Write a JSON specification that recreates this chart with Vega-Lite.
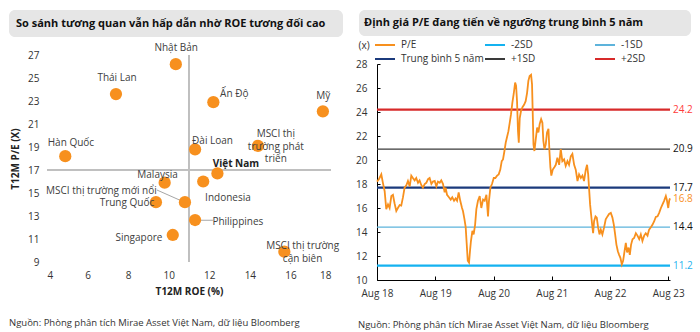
{
"$schema": "https://vega.github.io/schema/vega-lite/v6.json",
"background": "white",
"padding": {"left": 8, "top": 10, "right": 0, "bottom": 0},
"config": {"view": {"stroke": null}, "font": "Open Sans", "axis": {"labelOverlap": false}},
"resolve": {"scale": {"color": "independent"}, "legend": {"color": "independent"}},
"datasets": {
"markets": [
{"name": "Nhật Bản", "roe": 10.35, "pe": 26.2, "lx": 10.37, "ly": 27.58, "label": "Nhật Bản"},
{"name": "Thái Lan", "roe": 7.4, "pe": 23.6, "lx": 7.45, "ly": 25.03, "label": "Thái Lan"},
{"name": "Hàn Quốc", "roe": 4.9, "pe": 18.2, "lx": 5.18, "ly": 19.32, "label": "Hàn Quốc"},
{"name": "Ấn Độ", "roe": 12.2, "pe": 22.9, "lx": 13.23, "ly": 23.58, "label": "Ấn Độ"},
{"name": "Mỹ", "roe": 17.6, "pe": 22.1, "lx": 17.62, "ly": 23.46, "label": "Mỹ"},
{"name": "MSCI thị trường phát triển", "roe": 14.4, "pe": 19.1, "lx": 15.28, "ly": 20.13, "label": "MSCI thị\ntrường phát\ntriển"},
{"name": "Đài Loan", "roe": 11.3, "pe": 18.8, "lx": 12.16, "ly": 19.55, "label": "Đài Loan"},
{"name": "Việt Nam", "roe": 12.4, "pe": 16.7, "lx": 13.31, "ly": 17.52, "label": "Việt Nam"},
{"name": "Malaysia", "roe": 9.8, "pe": 15.9, "lx": 9.45, "ly": 16.57, "label": "Malaysia"},
{"name": "Indonesia", "roe": 11.7, "pe": 16.0, "lx": 12.92, "ly": 14.59, "label": "Indonesia"},
{"name": "MSCI thị trường mới nổi", "roe": 10.8, "pe": 14.2, "lx": 6.68, "ly": 15.17, "label": "MSCI thị trường mới nổi"},
{"name": "Trung Quốc", "roe": 9.37, "pe": 14.2, "lx": 7.94, "ly": 14.13, "label": "Trung Quốc"},
{"name": "Philippines", "roe": 11.3, "pe": 12.65, "lx": 13.41, "ly": 12.51, "label": "Philippines"},
{"name": "Singapore", "roe": 10.2, "pe": 11.35, "lx": 8.53, "ly": 11.09, "label": "Singapore"},
{"name": "MSCI thị trường cận biên", "roe": 15.7, "pe": 9.9, "lx": 16.6, "ly": 10.39, "label": "MSCI thị trường\ncận biên"}
],
"leaders": [
{"name": "MSCI thị trường mới nổi", "x1": 9.42, "y1": 15.26, "x2": 10.75, "y2": 14.22},
{"name": "Philippines", "x1": 11.44, "y1": 12.63, "x2": 12.18, "y2": 12.63}
],
"refs": [
{"name": "+2SD", "value": 24.2},
{"name": "+1SD", "value": 20.9},
{"name": "Trung bình 5 năm", "value": 17.7},
{"name": "-1SD", "value": 14.4},
{"name": "-2SD", "value": 11.2}
],
"pe": [
{"date":"2018-08-01","pe":18.2},{"date":"2018-08-13","pe":18.4},{"date":"2018-08-28","pe":18.8},{"date":"2018-09-07","pe":18.1},{"date":"2018-09-18","pe":17.4},{"date":"2018-09-28","pe":15.9},{"date":"2018-10-09","pe":16.3},{"date":"2018-10-19","pe":16.0},{"date":"2018-10-30","pe":17.0},{"date":"2018-11-09","pe":17.1},{"date":"2018-11-19","pe":16.4},{"date":"2018-11-30","pe":15.75},{"date":"2018-12-10","pe":16.0},{"date":"2018-12-21","pe":16.25},{"date":"2018-12-31","pe":16.2},
{"date":"2019-01-11","pe":16.9},{"date":"2019-01-21","pe":17.7},{"date":"2019-02-01","pe":17.9},{"date":"2019-02-11","pe":18.25},{"date":"2019-02-22","pe":17.8},{"date":"2019-03-04","pe":18.7},{"date":"2019-03-14","pe":18.5},{"date":"2019-03-25","pe":18.3},{"date":"2019-04-04","pe":18.5},{"date":"2019-04-15","pe":18.1},{"date":"2019-04-25","pe":18.3},{"date":"2019-05-06","pe":17.9},{"date":"2019-05-16","pe":17.7},{"date":"2019-05-27","pe":18.0},{"date":"2019-06-06","pe":18.1},{"date":"2019-06-17","pe":18.4},{"date":"2019-06-27","pe":18.5},{"date":"2019-07-08","pe":18.0},{"date":"2019-07-18","pe":18.2},{"date":"2019-07-29","pe":18.25},{"date":"2019-08-08","pe":17.8},{"date":"2019-08-18","pe":18.2},{"date":"2019-08-29","pe":18.1},{"date":"2019-09-08","pe":18.3},{"date":"2019-09-19","pe":18.0},{"date":"2019-09-29","pe":17.3},{"date":"2019-10-05","pe":17.7},{"date":"2019-10-14","pe":17.1},{"date":"2019-10-26","pe":16.9},{"date":"2019-11-06","pe":16.7},{"date":"2019-11-16","pe":16.9},{"date":"2019-11-27","pe":16.6},{"date":"2019-12-07","pe":16.8},{"date":"2019-12-16","pe":16.6},{"date":"2019-12-26","pe":17.3},
{"date":"2020-01-05","pe":16.6},{"date":"2020-01-16","pe":16.0},{"date":"2020-01-22","pe":15.75},{"date":"2020-01-31","pe":15.1},{"date":"2020-02-08","pe":14.4},{"date":"2020-02-14","pe":13.1},{"date":"2020-02-21","pe":11.6},{"date":"2020-02-29","pe":11.45},{"date":"2020-03-06","pe":12.4},{"date":"2020-03-12","pe":13.25},{"date":"2020-03-21","pe":14.1},{"date":"2020-03-29","pe":13.8},{"date":"2020-04-07","pe":14.6},{"date":"2020-04-15","pe":15.9},{"date":"2020-04-25","pe":16.6},{"date":"2020-05-06","pe":17.0},{"date":"2020-05-16","pe":16.0},{"date":"2020-05-27","pe":16.7},{"date":"2020-06-06","pe":16.6},{"date":"2020-06-17","pe":17.1},{"date":"2020-06-27","pe":15.3},{"date":"2020-07-03","pe":16.6},{"date":"2020-07-12","pe":17.7},{"date":"2020-07-22","pe":18.0},{"date":"2020-08-02","pe":18.5},{"date":"2020-08-12","pe":18.5},{"date":"2020-08-23","pe":18.7},{"date":"2020-09-02","pe":18.8},{"date":"2020-09-12","pe":19.2},{"date":"2020-09-21","pe":19.9},{"date":"2020-09-29","pe":20.05},{"date":"2020-10-08","pe":20.75},{"date":"2020-10-16","pe":21.45},{"date":"2020-10-24","pe":21.9},{"date":"2020-11-02","pe":22.4},{"date":"2020-11-10","pe":23.1},{"date":"2020-11-18","pe":23.8},{"date":"2020-11-27","pe":24.8},{"date":"2020-12-05","pe":25.5},{"date":"2020-12-14","pe":26.45},{"date":"2020-12-20","pe":26.2},{"date":"2020-12-26","pe":24.9},
{"date":"2021-01-01","pe":22.4},{"date":"2021-01-06","pe":21.45},{"date":"2021-01-12","pe":23.5},{"date":"2021-01-20","pe":24.1},{"date":"2021-01-29","pe":24.4},{"date":"2021-02-08","pe":24.6},{"date":"2021-02-18","pe":24.9},{"date":"2021-02-27","pe":25.6},{"date":"2021-03-07","pe":26.6},{"date":"2021-03-15","pe":27.0},{"date":"2021-03-24","pe":27.1},{"date":"2021-03-30","pe":26.3},{"date":"2021-04-03","pe":24.1},{"date":"2021-04-08","pe":21.3},{"date":"2021-04-14","pe":20.75},{"date":"2021-04-22","pe":21.7},{"date":"2021-05-01","pe":22.7},{"date":"2021-05-09","pe":22.3},{"date":"2021-05-17","pe":23.0},{"date":"2021-05-26","pe":23.4},{"date":"2021-06-03","pe":23.1},{"date":"2021-06-09","pe":21.6},{"date":"2021-06-16","pe":20.9},{"date":"2021-06-24","pe":21.3},{"date":"2021-07-02","pe":22.3},{"date":"2021-07-11","pe":22.6},{"date":"2021-07-17","pe":20.75},{"date":"2021-07-23","pe":19.4},{"date":"2021-07-29","pe":18.7},{"date":"2021-08-07","pe":19.2},{"date":"2021-08-17","pe":19.4},{"date":"2021-08-26","pe":19.6},{"date":"2021-09-05","pe":20.2},{"date":"2021-09-16","pe":19.6},{"date":"2021-09-26","pe":20.9},{"date":"2021-10-06","pe":19.9},{"date":"2021-10-17","pe":20.05},{"date":"2021-10-27","pe":19.5},{"date":"2021-11-07","pe":19.9},{"date":"2021-11-17","pe":19.6},{"date":"2021-11-28","pe":20.3},{"date":"2021-12-08","pe":20.5},{"date":"2021-12-19","pe":19.6},{"date":"2021-12-29","pe":19.2},
{"date":"2022-01-09","pe":18.25},{"date":"2022-01-19","pe":18.8},{"date":"2022-01-30","pe":18.5},{"date":"2022-02-09","pe":18.7},{"date":"2022-02-19","pe":18.25},{"date":"2022-03-02","pe":19.2},{"date":"2022-03-10","pe":19.6},{"date":"2022-03-17","pe":18.8},{"date":"2022-03-23","pe":17.55},{"date":"2022-03-29","pe":16.3},{"date":"2022-04-04","pe":15.5},{"date":"2022-04-11","pe":14.6},{"date":"2022-04-17","pe":13.9},{"date":"2022-04-23","pe":14.9},{"date":"2022-05-02","pe":15.3},{"date":"2022-05-10","pe":15.2},{"date":"2022-05-18","pe":14.4},{"date":"2022-05-27","pe":13.8},{"date":"2022-06-04","pe":14.2},{"date":"2022-06-14","pe":13.8},{"date":"2022-06-25","pe":14.4},{"date":"2022-07-05","pe":15.05},{"date":"2022-07-16","pe":15.3},{"date":"2022-07-26","pe":15.5},{"date":"2022-08-06","pe":15.6},{"date":"2022-08-16","pe":15.2},{"date":"2022-08-25","pe":14.6},{"date":"2022-09-02","pe":13.8},{"date":"2022-09-10","pe":12.95},{"date":"2022-09-19","pe":12.4},{"date":"2022-09-27","pe":12.1},{"date":"2022-10-05","pe":11.85},{"date":"2022-10-14","pe":11.3},{"date":"2022-10-22","pe":11.6},{"date":"2022-10-31","pe":12.4},{"date":"2022-11-08","pe":13.1},{"date":"2022-11-16","pe":12.3},{"date":"2022-11-25","pe":12.7},{"date":"2022-12-03","pe":12.1},{"date":"2022-12-11","pe":12.95},{"date":"2022-12-20","pe":13.4},{"date":"2022-12-30","pe":13.5},
{"date":"2023-01-10","pe":13.9},{"date":"2023-01-20","pe":13.7},{"date":"2023-01-31","pe":13.4},{"date":"2023-02-10","pe":13.8},{"date":"2023-02-20","pe":13.25},{"date":"2023-03-03","pe":13.7},{"date":"2023-03-13","pe":13.9},{"date":"2023-03-24","pe":13.7},{"date":"2023-04-03","pe":14.2},{"date":"2023-04-14","pe":14.4},{"date":"2023-04-24","pe":14.6},{"date":"2023-05-05","pe":14.9},{"date":"2023-05-15","pe":15.25},{"date":"2023-05-26","pe":15.3},{"date":"2023-06-05","pe":15.6},{"date":"2023-06-16","pe":16.0},{"date":"2023-06-26","pe":16.3},{"date":"2023-07-06","pe":16.6},{"date":"2023-07-17","pe":17.0},{"date":"2023-07-23","pe":16.7},{"date":"2023-08-01","pe":16.0},{"date":"2023-08-07","pe":16.6},{"date":"2023-08-12","pe":16.8}
]
},
"spacing": 12,
"hconcat": [
{
"spacing": 6,
"vconcat": [
{
"width": 296, "height": 27,
"layer": [
{"data": {"values": [{"box": "title"}]},
 "mark": {"type": "rect", "color": "#E6E6E6", "cornerRadius": 6},
 "encoding": {"x": {"datum": -0.1284, "type": "quantitative", "scale": {"domain": [0, 1], "nice": false, "zero": false}, "axis": null}, "x2": {"datum": 1},
  "y": {"datum": 0, "type": "quantitative", "scale": {"domain": [0, 1], "nice": false, "zero": false}, "axis": null}, "y2": {"datum": 1}}},
{"data": {"values": [{"t": "So sánh tương quan vẫn hấp dẫn nhờ ROE tương đối cao"}]},
 "mark": {"type": "text", "align": "left", "baseline": "middle", "fontWeight": "bold", "fontSize": 11, "color": "#111"},
 "encoding": {"text": {"field": "t"}, "x": {"datum": -0.1047, "type": "quantitative"}, "y": {"datum": 0.5, "type": "quantitative"}}}
]
},
{
"width": 284, "height": 207,
"data": {"name": "markets"},
"layer": [
{"mark": {"type": "rule", "color": "#BFBFBF", "strokeWidth": 1},
 "encoding": {"y": {"datum": 17, "type": "quantitative", "title": "T12M P/E (X)", "scale": {"domain": [9, 27], "nice": false, "zero": false},
   "axis": {"values": [9, 11, 13, 15, 17, 19, 21, 23, 25, 27], "tickCount": 20, "format": "d", "labelOverlap": false, "domain": false, "ticks": false, "grid": false, "labelFontSize": 10, "labelColor": "#333", "labelPadding": 8, "titleFontSize": 10, "titleFontWeight": "bold", "titleColor": "#222", "titlePadding": 7}}}},
{"mark": {"type": "rule", "color": "#BFBFBF", "strokeWidth": 1},
 "encoding": {"x": {"datum": 11, "type": "quantitative", "title": "T12M ROE (%)", "scale": {"domain": [4, 18], "nice": false, "zero": false},
   "axis": {"values": [4, 6, 8, 10, 12, 14, 16, 18], "tickCount": 20, "format": "d", "labelOverlap": false, "domain": false, "ticks": false, "grid": false, "labelFontSize": 10, "labelColor": "#333", "labelPadding": 8, "titleFontSize": 10, "titleFontWeight": "bold", "titleColor": "#222", "titlePadding": 6}}}},
{"data": {"name": "leaders"}, "mark": {"type": "rule", "color": "#A6A6A6", "strokeWidth": 1},
 "encoding": {"x": {"field": "x1", "type": "quantitative", "title": "T12M ROE (%)"}, "y": {"field": "y1", "type": "quantitative", "title": "T12M P/E (X)"}, "x2": {"field": "x2"}, "y2": {"field": "y2"}}},
{"mark": {"type": "circle", "size": 150, "opacity": 1, "color": "#F7901E"},
 "encoding": {"x": {"field": "roe", "type": "quantitative", "title": "T12M ROE (%)"}, "y": {"field": "pe", "type": "quantitative", "title": "T12M P/E (X)"}}},
{"transform": [{"filter": "datum.name !== 'Việt Nam'"}],
 "mark": {"type": "text", "fontSize": 10, "color": "#404040", "align": "center", "baseline": "middle", "lineBreak": "\n", "lineHeight": 12.5},
 "encoding": {"x": {"field": "lx", "type": "quantitative", "title": "T12M ROE (%)"}, "y": {"field": "ly", "type": "quantitative", "title": "T12M P/E (X)"}, "text": {"field": "label"}}},
{"transform": [{"filter": "datum.name === 'Việt Nam'"}],
 "mark": {"type": "text", "fontSize": 10, "fontWeight": "bold", "color": "#222", "align": "center", "baseline": "middle"},
 "encoding": {"x": {"field": "lx", "type": "quantitative", "title": "T12M ROE (%)"}, "y": {"field": "ly", "type": "quantitative", "title": "T12M P/E (X)"}, "text": {"field": "label"}}}
]
},
{
"width": 296, "height": 42,
"data": {"values": [{"t": "Nguồn: Phòng phân tích Mirae Asset Việt Nam, dữ liệu Bloomberg"}]},
"mark": {"type": "text", "align": "left", "baseline": "middle", "fontSize": 9.5, "color": "#333"},
"encoding": {"text": {"field": "t"}, "x": {"datum": -0.1284, "type": "quantitative", "scale": {"domain": [0, 1], "nice": false, "zero": false}, "axis": null}}
}
]
},
{
"spacing": 2,
"resolve": {"scale": {"color": "independent"}, "legend": {"color": "independent"}},
"vconcat": [
{
"width": 314, "height": 26,
"layer": [
{"data": {"values": [{"box": "title"}]},
 "mark": {"type": "rect", "color": "#E6E6E6", "cornerRadius": 6},
 "encoding": {"x": {"datum": -0.0573, "type": "quantitative", "scale": {"domain": [0, 1], "nice": false, "zero": false}, "axis": null}, "x2": {"datum": 1},
  "y": {"datum": 0, "type": "quantitative", "scale": {"domain": [0, 1], "nice": false, "zero": false}, "axis": null}, "y2": {"datum": 1}}},
{"data": {"values": [{"t": "Định giá P/E đang tiến về ngưỡng trung bình 5 năm"}]},
 "mark": {"type": "text", "align": "left", "baseline": "middle", "fontWeight": "bold", "fontSize": 11, "color": "#111"},
 "encoding": {"text": {"field": "t"}, "x": {"datum": -0.0414, "type": "quantitative"}, "y": {"datum": 0.5, "type": "quantitative"}}}
]
},
{
"width": 293, "height": 216,
"layer": [
{"data": {"name": "refs"}, "transform": [{"filter": "datum.name === '+1SD' || datum.name === '-1SD'"}],
 "mark": {"type": "rule", "strokeWidth": 1.3},
 "encoding": {
  "y": {"field": "value", "type": "quantitative", "title": "(x)", "scale": {"domain": [10, 28], "nice": false, "zero": false},
   "axis": {"values": [10, 12, 14, 16, 18, 20, 22, 24, 26, 28], "tickCount": 20, "format": "d", "labelOverlap": false, "grid": false, "domain": true, "domainColor": "#000", "ticks": true, "tickColor": "#000", "tickSize": -3, "labelFontSize": 10, "labelColor": "#333", "labelPadding": 13, "titleAngle": 0, "titleFontSize": 10, "titleFontWeight": "normal", "titleColor": "#333", "titleAlign": "left", "titleBaseline": "middle", "titleX": -19, "titleY": -19}},
  "color": {"field": "name", "type": "nominal",
   "scale": {"domain": ["P/E", "-2SD", "-1SD", "Trung bình 5 năm", "+1SD", "+2SD"], "range": ["#F7901E", "#14B2F0", "#5DB3DB", "#1B3A7C", "#3A3A3A", "#D72A2A"]},
   "legend": {"orient": "none", "legendX": -3, "legendY": -26, "direction": "horizontal", "columns": 3, "title": null, "symbolType": "stroke", "symbolSize": 400, "symbolStrokeWidth": 2, "clipHeight": 14, "labelFontSize": 10, "labelColor": "#333", "labelOffset": 5, "columnPadding": 0, "rowPadding": 0, "gridAlign": "all", "padding": 0}}
 }},
{"data": {"name": "refs"}, "transform": [{"filter": "datum.name === '+2SD' || datum.name === 'Trung bình 5 năm' || datum.name === '-2SD'"}],
 "mark": {"type": "rule", "strokeWidth": 2.2},
 "encoding": {"y": {"field": "value", "type": "quantitative", "title": "(x)"}, "color": {"field": "name", "type": "nominal"}}},
{"data": {"name": "pe"},
 "mark": {"type": "line", "strokeWidth": 1.8},
 "encoding": {
  "x": {"field": "date", "type": "temporal", "title": null,
   "scale": {"domain": [{"year": 2018, "month": 8, "date": 1}, {"year": 2023, "month": 8, "date": 12}], "nice": false},
   "axis": {"values": [{"year": 2018, "month": 8, "date": 1}, {"year": 2019, "month": 8, "date": 1}, {"year": 2020, "month": 8, "date": 1}, {"year": 2021, "month": 8, "date": 1}, {"year": 2022, "month": 8, "date": 1}, {"year": 2023, "month": 8, "date": 1}],
    "tickCount": 20, "format": "%b %y", "labelOverlap": false, "grid": false, "domainColor": "#000", "tickColor": "#000", "tickSize": -4, "labelFontSize": 10, "labelColor": "#333", "labelPadding": 12, "labelFlush": false}},
  "y": {"field": "pe", "type": "quantitative", "title": "(x)"},
  "color": {"datum": "P/E"}
 }},
{"data": {"name": "refs"}, "transform": [{"filter": "datum.name === '+1SD' || datum.name === '-1SD' || datum.name === 'Trung bình 5 năm'"}],
 "mark": {"type": "text", "align": "left", "baseline": "middle", "dx": 3, "fontSize": 10, "color": "#111"},
 "encoding": {"x": {"datum": {"year": 2023, "month": 8, "date": 12}, "type": "temporal"}, "y": {"field": "value", "type": "quantitative", "title": "(x)"}, "text": {"field": "value", "type": "quantitative", "format": ".1f"}}},
{"data": {"name": "refs"}, "transform": [{"filter": "datum.name === '+2SD'"}],
 "mark": {"type": "text", "align": "left", "baseline": "middle", "dx": 3, "fontSize": 10, "color": "#FF3B3B"},
 "encoding": {"x": {"datum": {"year": 2023, "month": 8, "date": 12}, "type": "temporal"}, "y": {"field": "value", "type": "quantitative", "title": "(x)"}, "text": {"field": "value", "type": "quantitative", "format": ".1f"}}},
{"data": {"name": "refs"}, "transform": [{"filter": "datum.name === '-2SD'"}],
 "mark": {"type": "text", "align": "left", "baseline": "middle", "dx": 3, "fontSize": 10, "color": "#1FB4F0"},
 "encoding": {"x": {"datum": {"year": 2023, "month": 8, "date": 12}, "type": "temporal"}, "y": {"field": "value", "type": "quantitative", "title": "(x)"}, "text": {"field": "value", "type": "quantitative", "format": ".1f"}}},
{"data": {"name": "pe"}, "transform": [{"joinaggregate": [{"op": "max", "field": "date", "as": "maxd"}]}, {"filter": "+datum.date === +datum.maxd"}],
 "mark": {"type": "text", "align": "left", "baseline": "middle", "dx": 3, "dy": 1, "fontSize": 10, "color": "#F7901E"},
 "encoding": {"x": {"field": "date", "type": "temporal"}, "y": {"field": "pe", "type": "quantitative", "title": "(x)"}, "text": {"field": "pe", "type": "quantitative", "format": ".1f"}}}
]
},
{
"width": 314, "height": 50,
"data": {"values": [{"t": "Nguồn: Phòng phân tích Mirae Asset Việt Nam, dữ liệu Bloomberg"}]},
"mark": {"type": "text", "align": "left", "baseline": "middle", "fontSize": 9.5, "color": "#333"},
"encoding": {"text": {"field": "t"}, "x": {"datum": -0.0605, "type": "quantitative", "scale": {"domain": [0, 1], "nice": false, "zero": false}, "axis": null}}
}
]
}
]
}
